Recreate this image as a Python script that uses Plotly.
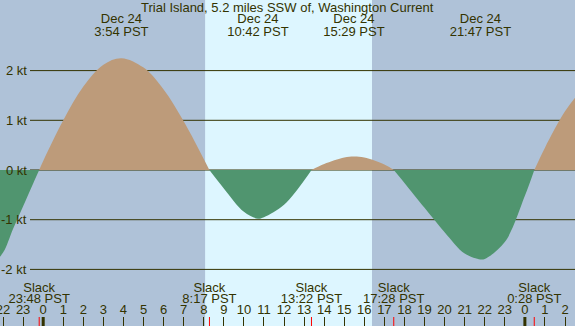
import plotly.graph_objects as go

# ---------------- data ----------------
title_text = "Trial Island, 5.2 miles SSW of, Washington Current"

# hours relative to Dec 24 00:00 PST, current in knots (flood +, ebb -)
curve_hours = [-3.0, -2.5, -2.0, -1.5, -1.0, -0.5, -0.2,
               0.0, 1.0, 2.0, 3.0, 3.9, 5.0, 6.0, 7.0, 8.0, 8.28,
               9.0, 10.0, 10.7, 11.0, 12.0, 13.0, 13.37,
               14.0, 15.0, 15.48, 16.0, 17.0, 17.47,
               18.0, 19.0, 20.0, 21.0, 21.78, 22.0, 23.0, 24.0, 24.47,
               25.0, 26.0, 27.0]
curve_knots = [-1.92, -1.87, -1.66, -1.18, -0.73, -0.27, 0.0,
               0.18, 1.00, 1.68, 2.12, 2.25, 2.06, 1.62, 0.98, 0.22, 0.0,
               -0.37, -0.84, -0.98, -0.95, -0.70, -0.21, 0.0,
               0.12, 0.25, 0.27, 0.25, 0.11, 0.0,
               -0.26, -0.76, -1.25, -1.68, -1.80, -1.79, -1.45, -0.52, 0.0,
               0.45, 1.18, 1.70]

max_dates = ["Dec 23", "Dec 24", "Dec 24", "Dec 24", "Dec 24"]
max_times = ["21:02", "3:54", "10:42", "15:29", "21:47"]
max_days = [-1, 0, 0, 0, 0]

slack_times = ["23:48", "8:17", "13:22", "17:28", "0:28"]
slack_days = [-1, 0, 0, 0, 1]

sun_times = ["8:04", "16:23"]  # sunrise, sunset Dec 24

hour_ticks = list(range(-2, 27))
y_tick_vals = [2, 1, 0, -1, -2]
y_tick_labels = ["2 kt", "1 kt", "0 kt", "-1 kt", "-2 kt"]

# ---------------- geometry / style ----------------
W, H = 575, 326
X0_PX, PX_PER_HR = 43.2, 20.07
Y0_PX, PX_PER_KT = 170.0, 49.7

NIGHT = "#afc2d8"
DAY = "#ddf6ff"
FLOOD = "#bd9b7a"
EBB = "#50956f"
INK = "#333300"
FONT = "Liberation Sans"
FS = 13


def to_hours(t, day):
    h, m = t.split(":")
    return day * 24 + int(h) + int(m) / 60.0


def ky(py):
    return (Y0_PX - py) / PX_PER_KT


x_range = [(0 - X0_PX) / PX_PER_HR, (W - X0_PX) / PX_PER_HR]
y_range = [ky(H), ky(0)]

fig = go.Figure()

# split the curve into flood / ebb segments at slack (zero) points
segments = []
cur = [(curve_hours[0], curve_knots[0])]
for h, v in zip(curve_hours[1:], curve_knots[1:]):
    cur.append((h, v))
    if v == 0.0:
        segments.append(cur)
        cur = [(h, v)]
if len(cur) > 1:
    segments.append(cur)

for seg in segments:
    xs = [p[0] for p in seg]
    ys = [p[1] for p in seg]
    positive = sum(ys) > 0
    col = FLOOD if positive else EBB
    fig.add_trace(go.Scatter(
        x=xs, y=ys, mode="lines", line=dict(width=0, shape="spline", color=col),
        fill="tozeroy", fillcolor=col, hoverinfo="skip", showlegend=False))

# top labels (max current events)
mx = [to_hours(t, d) for t, d in zip(max_times, max_days)]
fig.add_trace(go.Scatter(
    x=mx, y=[ky(19.8)] * len(mx), mode="text", text=max_dates,
    textfont=dict(family=FONT, size=FS, color=INK), cliponaxis=False,
    hoverinfo="skip", showlegend=False))
fig.add_trace(go.Scatter(
    x=mx, y=[ky(32.5)] * len(mx), mode="text", text=[t + " PST" for t in max_times],
    textfont=dict(family=FONT, size=FS, color=INK), cliponaxis=False,
    hoverinfo="skip", showlegend=False))

# slack labels
sx = [to_hours(t, d) for t, d in zip(slack_times, slack_days)]
fig.add_trace(go.Scatter(
    x=sx, y=[ky(288.3)] * len(sx), mode="text", text=["Slack"] * len(sx),
    textfont=dict(family=FONT, size=FS, color=INK), cliponaxis=False,
    hoverinfo="skip", showlegend=False))
fig.add_trace(go.Scatter(
    x=sx, y=[ky(299.8)] * len(sx), mode="text", text=[t + " PST" for t in slack_times],
    textfont=dict(family=FONT, size=FS, color=INK), cliponaxis=False,
    hoverinfo="skip", showlegend=False))

# hour labels
fig.add_trace(go.Scatter(
    x=hour_ticks, y=[ky(310.5)] * len(hour_ticks), mode="text",
    text=[str(h % 24) for h in hour_ticks],
    textfont=dict(family=FONT, size=FS, color=INK), cliponaxis=False,
    hoverinfo="skip", showlegend=False))

shapes = []
# daylight band
sr, ss = [to_hours(t, 0) for t in sun_times]
shapes.append(dict(type="rect", xref="x", yref="paper", x0=sr, x1=ss, y0=0, y1=1,
                   fillcolor=DAY, line=dict(width=0), layer="below"))
# grid lines
for v in y_tick_vals:
    shapes.append(dict(type="line", xref="paper", yref="y", x0=30 / W, x1=1, y0=v, y1=v,
                       line=dict(color=INK, width=1), layer="below"))
# midnight ticks
for h in hour_ticks:
    if h % 24 == 0:
        shapes.append(dict(type="line", xref="x", yref="paper", x0=h, x1=h, y0=0, y1=9 / H,
                           line=dict(color=INK, width=3), layer="above"))
# slack ticks
for h in sx:
    shapes.append(dict(type="line", xref="x", yref="paper", x0=h, x1=h, y0=0, y1=9 / H,
                       line=dict(color="#ff0000", width=1), layer="above"))

annotations = [dict(text=title_text, xref="paper", yref="paper", x=0.5, y=1 - 8.0 / H,
                    xanchor="center", yanchor="middle", showarrow=False,
                    font=dict(family=FONT, size=FS, color=INK))]
for v, lab in zip(y_tick_vals, y_tick_labels):
    annotations.append(dict(text=lab, xref="paper", yref="y", x=28.5 / W, y=v,
                            xanchor="right", yanchor="middle", showarrow=False,
                            font=dict(family=FONT, size=FS, color=INK)))

fig.update_layout(
    width=W, height=H, margin=dict(l=0, r=0, t=0, b=0),
    paper_bgcolor=NIGHT, plot_bgcolor=NIGHT,
    shapes=shapes, annotations=annotations, showlegend=False,
    xaxis=dict(range=x_range, tickvals=hour_ticks, ticks="inside", ticklen=9,
               tickwidth=1, tickcolor=INK, showticklabels=False, showgrid=False,
               zeroline=False, showline=False, fixedrange=True),
    yaxis=dict(range=y_range, visible=False, showgrid=False, zeroline=False,
               fixedrange=True),
)

fig.write_html(
    "out.html",
    config={"displayModeBar": False},
    post_script="document.body.style.margin='0px';document.body.style.overflow='hidden';",
)
